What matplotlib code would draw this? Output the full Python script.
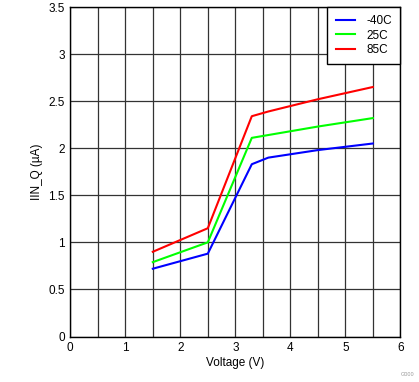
import matplotlib
matplotlib.use("Agg")
import matplotlib.pyplot as plt

plt.rcParams['font.family'] = ['Liberation Sans', 'DejaVu Sans']

voltage = [1.5, 2.5, 3.3, 3.6, 4.5, 5.5]
iq_m40 = [0.72, 0.88, 1.83, 1.90, 1.98, 2.05]
iq_25 = [0.79, 1.00, 2.11, 2.14, 2.23, 2.32]
iq_85 = [0.90, 1.15, 2.34, 2.39, 2.52, 2.65]
labels = ['-40C', '25C', '85C']
colors = ['#0000ff', '#00ff00', '#ff0000']

fig = plt.figure(figsize=(4.19, 3.82), dpi=100)
ax = fig.add_axes([70.3/419, (382-336.5)/382, 330/419, 329.5/382])

for y, lab, c in zip([iq_m40, iq_25, iq_85], labels, colors):
    ax.plot(voltage, y, color=c, lw=1.5, label=lab)

ax.set_xlim(0, 6)
ax.set_ylim(0, 3.5)
ax.set_xticks([0, 1, 2, 3, 4, 5, 6])
ax.set_xticks([0.5, 1.5, 2.5, 3.5, 4.5, 5.5], minor=True)
ax.set_yticks([0, 0.5, 1, 1.5, 2, 2.5, 3, 3.5])
ax.set_yticklabels(['0', '0.5', '1', '1.5', '2', '2.5', '3', '3.5'])
ax.grid(True, which='both', color='#333333', lw=0.9)
ax.tick_params(which='both', length=0, labelsize=8.5, pad=4)
for s in ax.spines.values():
    s.set_color('black')
    s.set_linewidth(1)
ax.set_axisbelow(True)

ax.set_xlabel('Voltage (V)', fontsize=8.5, labelpad=2)
ax.set_ylabel('IIN_Q (µA)', fontsize=8.5, labelpad=4)

leg = ax.legend(loc='upper right', fontsize=8.5, frameon=True, fancybox=False,
                borderaxespad=0, handlelength=1.6, handletextpad=1.0,
                labelspacing=0.2, borderpad=0.7)
leg.get_frame().set_edgecolor('black')
leg.get_frame().set_linewidth(1)
leg.get_frame().set_alpha(1)

fig.text(0.988, 0.012, 'G000', fontsize=4, color='#999999', ha='right', va='bottom')

fig.savefig('out.png', dpi=100)
